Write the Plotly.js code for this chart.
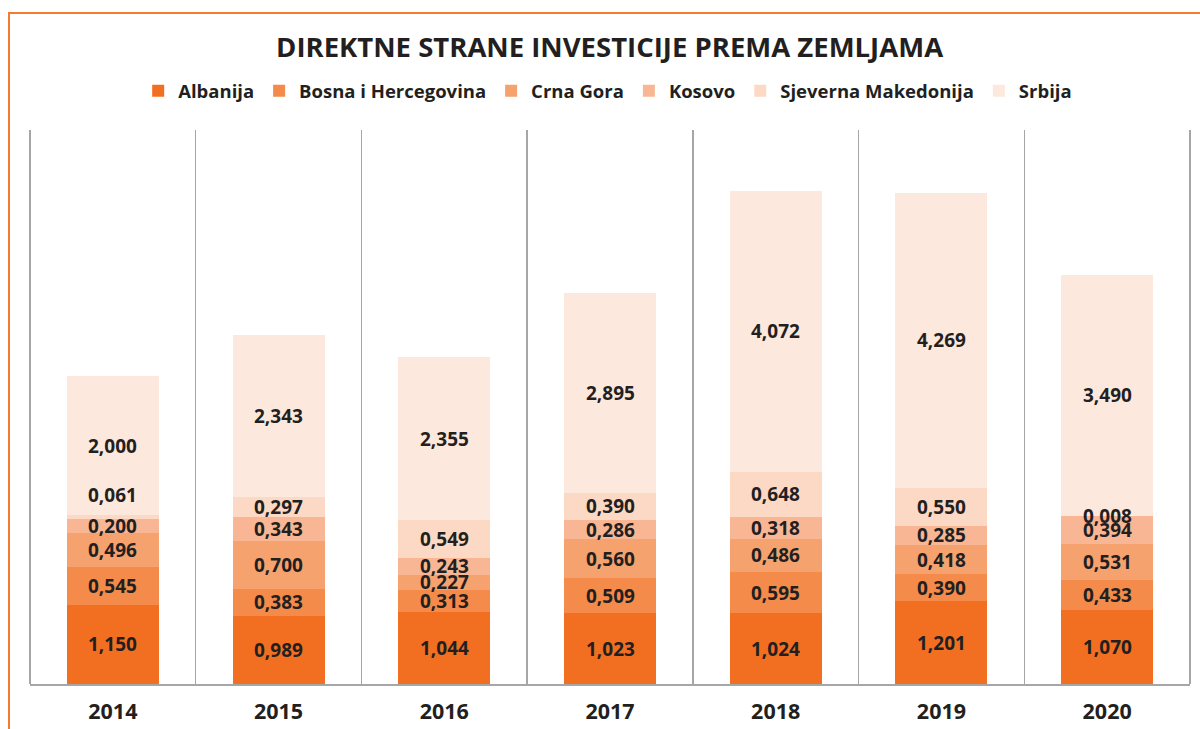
<!DOCTYPE html>
<html>
<head>
<meta charset="utf-8">
<script src="https://cdn.plot.ly/plotly-3.0.1.min.js"></script>
<style>
html,body{margin:0;padding:0;background:#fff;}
#chart{width:1200px;height:729px;}
</style>
</head>
<body>
<div id="chart"></div>
<script>
// ---- data ----
const years = ['2014','2015','2016','2017','2018','2019','2020'];
const seriesNames = ['Albanija','Bosna i Hercegovina','Crna Gora','Kosovo','Sjeverna Makedonija','Srbija'];
const albanija   = [1.150, 0.989, 1.044, 1.023, 1.024, 1.201, 1.070];
const bih        = [0.545, 0.383, 0.313, 0.509, 0.595, 0.390, 0.433];
const crnaGora   = [0.496, 0.700, 0.227, 0.560, 0.486, 0.418, 0.531];
const kosovo     = [0.200, 0.343, 0.243, 0.286, 0.318, 0.285, 0.394];
const sjMakedon  = [0.061, 0.297, 0.549, 0.390, 0.648, 0.550, 0.008];
const srbija     = [2.000, 2.343, 2.355, 2.895, 4.072, 4.269, 3.490];

const seriesValues = [albanija, bih, crnaGora, kosovo, sjMakedon, srbija];
const colors = ['#F26F22','#F48B4B','#F6A26E','#F8B694','#FCD9C4','#FDE8DD'];
const textColor = '#231F20';
const FONT = 'Open Sans, Liberation Sans, sans-serif';

const traces = seriesValues.map((vals, i) => ({
  type: 'bar',
  name: seriesNames[i],
  x: years,
  y: vals,
  marker: {color: colors[i], line: {width: 0}},
  hoverinfo: 'skip'
}));

// value labels centred in each segment (x given as category index)
const annotations = [];
const cum = years.map(() => 0);
seriesValues.forEach((vals, si) => {
  vals.forEach((v, yi) => {
    const mid = cum[yi] + v / 2;
    cum[yi] += v;
    let shift = 0;
    if (v < 0.1 && si === 4 && yi === 0) shift = 22;
    annotations.push({
      x: yi, y: mid, xref: 'x', yref: 'y',
      text: v.toFixed(3).replace('.', ','),
      showarrow: false, yshift: shift,
      font: {family: FONT, size: 19, color: textColor, weight: 700}
    });
  });
});

const layout = {
  width: 1200, height: 729,
  paper_bgcolor: '#ffffff', plot_bgcolor: '#ffffff',
  margin: {l: 30, r: 10, t: 130, b: 45},
  barmode: 'stack',
  bargap: 0.445,
  showlegend: true,
  title: {
    text: 'DIREKTNE STRANE INVESTICIJE PREMA ZEMLJAMA',
    x: 0.508, xref: 'container', xanchor: 'center',
    y: 1 - 47/729, yref: 'container', yanchor: 'middle',
    font: {family: FONT, size: 27.5, color: textColor, weight: 700}
  },
  legend: {
    orientation: 'h', x: 0.498, xanchor: 'center', y: 1.07, yanchor: 'middle',
    font: {family: FONT, size: 18.5, color: textColor, weight: 700},
    traceorder: 'normal', itemclick: false, itemdoubleclick: false
  },
  xaxis: {
    type: 'category',
    range: [-0.5, 6.5],
    showgrid: true, gridcolor: '#A6A6A6', gridwidth: 1.5,
    tickson: 'boundaries', ticks: '',
    showline: true, linecolor: '#A6A6A6', linewidth: 2,
    zeroline: false,
    tickfont: {family: FONT, size: 21.5, color: textColor, weight: 700},
    ticklabelstandoff: 7,
    fixedrange: true
  },
  yaxis: {
    range: [0, 8.02],
    showgrid: false, zeroline: false, showticklabels: false, showline: false, ticks: '',
    fixedrange: true
  },
  annotations: annotations,
  shapes: [
    {type: 'rect', xref: 'paper', yref: 'paper',
     x0: (9 - 30) / 1160, x1: 1.05, y0: -0.3, y1: 1 + (130 - 13) / 554,
     line: {color: '#F47B30', width: 2}, fillcolor: 'rgba(0,0,0,0)', layer: 'below'},
    {type: 'line', xref: 'paper', yref: 'paper', x0: 0, x1: 0, y0: 0, y1: 1,
     line: {color: '#A6A6A6', width: 2}},
    {type: 'line', xref: 'paper', yref: 'paper', x0: 1, x1: 1, y0: 0, y1: 1,
     line: {color: '#A6A6A6', width: 2}}
  ]
};

Plotly.newPlot('chart', traces, layout, {displayModeBar: false, staticPlot: true});
</script>
</body>
</html>
